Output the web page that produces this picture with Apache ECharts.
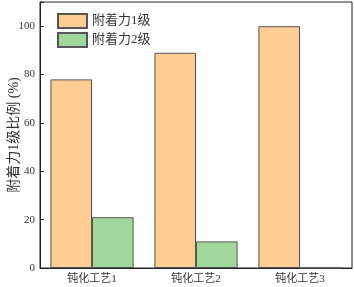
<!DOCTYPE html>
<html><head><meta charset="utf-8">
<script src="https://cdn.jsdelivr.net/npm/echarts@6/dist/echarts.min.js"></script>
<style>html,body{margin:0;padding:0;background:#fff}#c{width:354px;height:287px}</style>
</head><body><div id="c"></div>
<script>
const categories = ['钝化工艺1', '钝化工艺2', '钝化工艺3'];
const level1 = [78, 89, 100];
const level2 = [21, 11, 0];
const seriesNames = ['附着力1级', '附着力2级'];
const yTicks = [0, 20, 40, 60, 80, 100];
const font = '"Liberation Serif","Noto Sans CJK SC",serif';
const chart = echarts.init(document.getElementById('c'));
chart.setOption({
  animation: false,
  textStyle: {fontFamily: font},
  grid: {left: 40, right: 2, top: 2, bottom: 19, containLabel: false, outerBoundsMode: 'none',
    show: true, borderColor: '#222', borderWidth: 1, backgroundColor: 'transparent'},
  legend: {
    left: 52, top: 8, orient: 'vertical', itemWidth: 29, itemHeight: 14, itemGap: 3,
    icon: 'rect',
    textStyle: {fontFamily: font, fontSize: 13, color: '#333'},
    data: seriesNames
  },
  xAxis: {
    type: 'category', data: categories,
    axisLine: {lineStyle: {color: '#222'}},
    axisTick: {show: false},
    axisLabel: {fontFamily: font, fontSize: 11, color: '#333', margin: 6}
  },
  yAxis: {
    type: 'value', min: 0, max: 110, interval: 20,
    name: '附着力1级比例 (%)', nameLocation: 'middle', nameGap: 19, nameMoveOverlap: false,
    nameTextStyle: {fontFamily: font, fontSize: 14, color: '#333'},
    axisLine: {show: true, lineStyle: {color: '#222'}},
    axisTick: {show: true, inside: true, length: 4, lineStyle: {color: '#222'}},
    splitLine: {show: false},
    axisLabel: {fontFamily: font, fontSize: 11, color: '#333', margin: 5,
      formatter: v => yTicks.includes(v) ? String(v) : ''}
  },
  series: [
    {name: seriesNames[0], type: 'bar', data: level1, barGap: '0%', barCategoryGap: '20%',
     itemStyle: {color: '#FFCC91', borderColor: '#555', borderWidth: 1}},
    {name: seriesNames[1], type: 'bar', data: level2,
     itemStyle: {color: '#9FD79B', borderColor: '#555', borderWidth: 1}}
  ]
});
</script></body></html>
